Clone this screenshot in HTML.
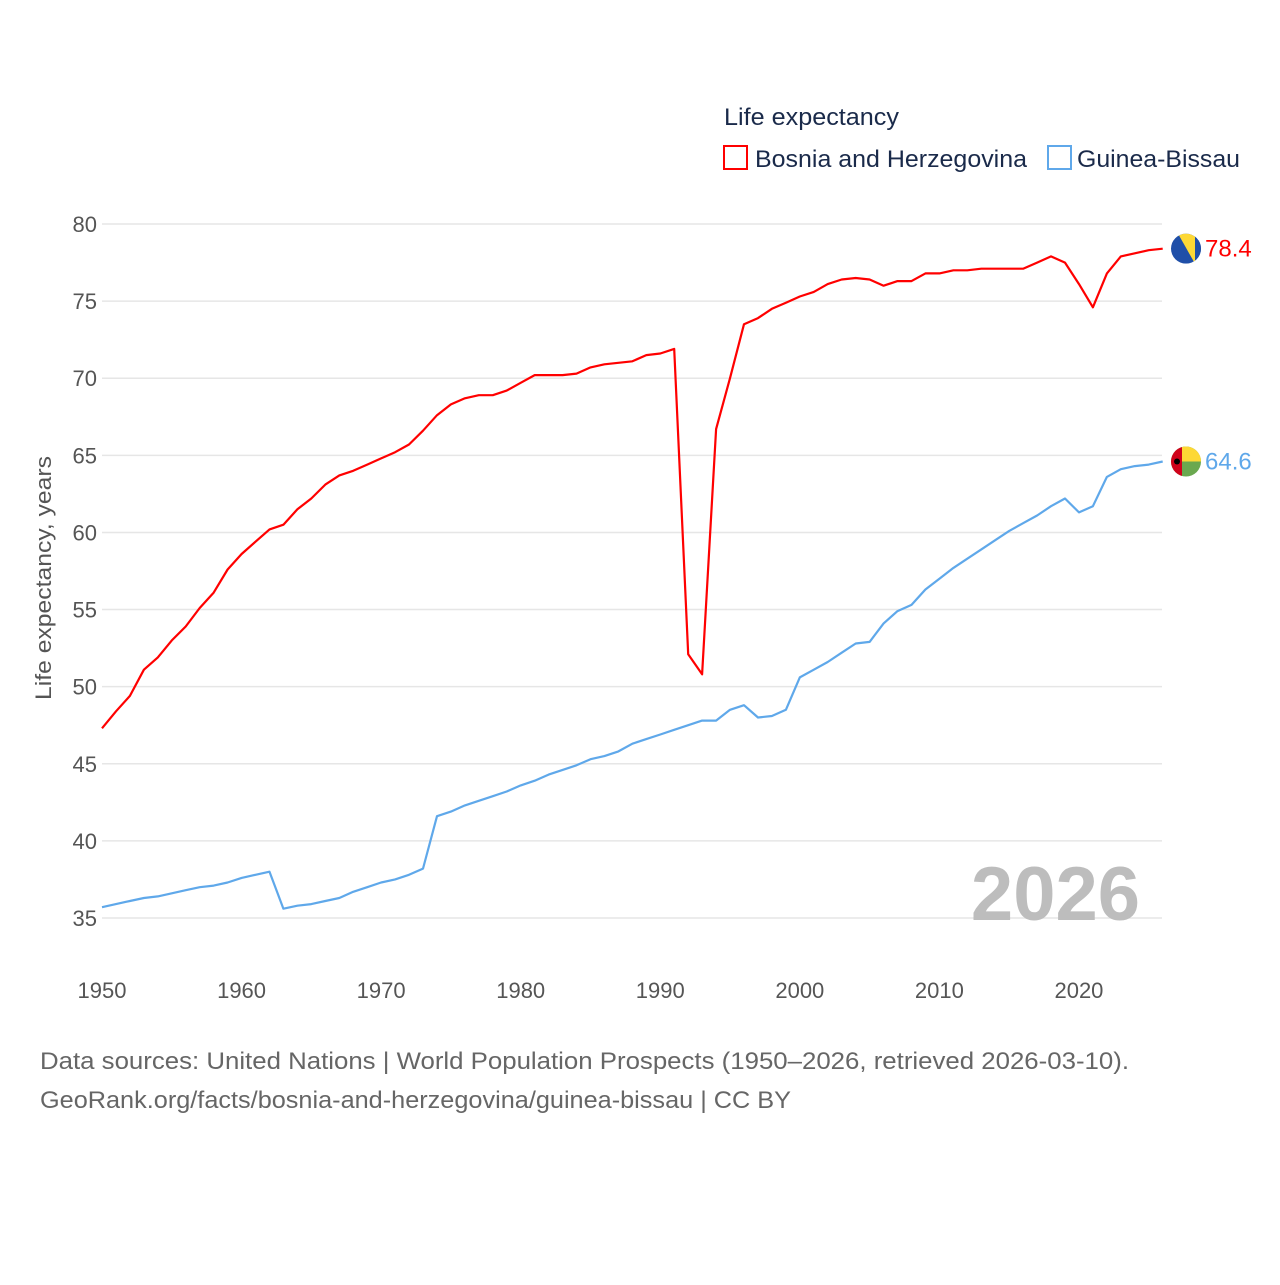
<!DOCTYPE html>
<html><head><meta charset="utf-8"><style>
body{margin:0;background:#fff;font-family:"Liberation Sans",sans-serif}
svg text{font-family:"Liberation Sans",sans-serif}
</style></head><body>
<svg id="chart" width="1280" height="1280" viewBox="0 0 1280 1280">
<g>
<text x="724" y="125" font-size="24" fill="#1a2a4a" textLength="175" lengthAdjust="spacingAndGlyphs">Life expectancy</text>
<rect x="724" y="146" width="23" height="23" fill="none" stroke="#ff0000" stroke-width="2"/>
<text x="755" y="167" font-size="24" fill="#1a2a4a" textLength="272" lengthAdjust="spacingAndGlyphs">Bosnia and Herzegovina</text>
<rect x="1048" y="146" width="23" height="23" fill="none" stroke="#5fa8ea" stroke-width="2"/>
<text x="1077" y="167" font-size="24" fill="#1a2a4a" textLength="163" lengthAdjust="spacingAndGlyphs">Guinea-Bissau</text>
</g>
<g id="grid"></g>
<g id="yticks"></g>
<g id="xticks"></g>
<text transform="translate(51,578) rotate(-90)" text-anchor="middle" font-size="22" fill="#555" textLength="244" lengthAdjust="spacingAndGlyphs">Life expectancy, years</text>
<text x="1140" y="920" text-anchor="end" font-size="76" font-weight="bold" fill="#bdbdbd">2026</text>
<g id="series"></g>
<text x="40" y="1069" font-size="24" fill="#666" textLength="1089" lengthAdjust="spacingAndGlyphs">Data sources: United Nations | World Population Prospects (1950–2026, retrieved 2026-03-10).</text>
<text x="40" y="1108" font-size="24" fill="#666" textLength="751" lengthAdjust="spacingAndGlyphs">GeoRank.org/facts/bosnia-and-herzegovina/guinea-bissau | CC BY</text>
</svg>
<script>
const years = [];
for (let y = 1950; y <= 2026; y++) years.push(y);
const bosnia = [47.3,48.4,49.4,51.1,51.9,53.0,53.9,55.1,56.1,57.6,58.6,59.4,60.2,60.5,61.5,62.2,63.1,63.7,64.0,64.4,64.8,65.2,65.7,66.6,67.6,68.3,68.7,68.9,68.9,69.2,69.7,70.2,70.2,70.2,70.3,70.7,70.9,71.0,71.1,71.5,71.6,71.9,52.1,50.8,66.7,70.0,73.5,73.9,74.5,74.9,75.3,75.6,76.1,76.4,76.5,76.4,76.0,76.3,76.3,76.8,76.8,77.0,77.0,77.1,77.1,77.1,77.1,77.5,77.9,77.5,76.1,74.6,76.8,77.9,78.1,78.3,78.4];
const guinea = [35.7,35.9,36.1,36.3,36.4,36.6,36.8,37.0,37.1,37.3,37.6,37.8,38.0,35.6,35.8,35.9,36.1,36.3,36.7,37.0,37.3,37.5,37.8,38.2,41.6,41.9,42.3,42.6,42.9,43.2,43.6,43.9,44.3,44.6,44.9,45.3,45.5,45.8,46.3,46.6,46.9,47.2,47.5,47.8,47.8,48.5,48.8,48.0,48.1,48.5,50.6,51.1,51.6,52.2,52.8,52.9,54.1,54.9,55.3,56.3,57.0,57.7,58.3,58.9,59.5,60.1,60.6,61.1,61.7,62.2,61.3,61.7,63.6,64.1,64.3,64.4,64.6];
const yTicks = [35,40,45,50,55,60,65,70,75,80];
const xTicks = [1950,1960,1970,1980,1990,2000,2010,2020];
const X0=102, X1=1162.7, Y0=918, Y1=224;
const xs = yr => X0 + (yr-1950)*(X1-X0)/76;
const ys = v => Y0 - (v-35)*(Y0-Y1)/45;
const NS='http://www.w3.org/2000/svg';
function mk(tag, attrs, parent){const e=document.createElementNS(NS,tag);for(const k in attrs)e.setAttribute(k,attrs[k]);parent.appendChild(e);return e;}
const grid=document.getElementById('grid'), yt=document.getElementById('yticks'), xt=document.getElementById('xticks'), ser=document.getElementById('series');
yTicks.forEach(t=>{
  const l=mk('line',{x1:X0,x2:1162,y1:ys(t),y2:ys(t),stroke:'#e6e6e6','stroke-width':1.5},grid);
  
  
  const tx=mk('text',{x:97,y:ys(t)+8,'text-anchor':'end','font-size':22,fill:'#555'},yt);
  tx.textContent=t;
  
  
});
xTicks.forEach(t=>{
  const tx=mk('text',{x:xs(t),y:998,'text-anchor':'middle','font-size':22,fill:'#555'},xt);
  tx.textContent=t;
  
  
});
function line(vals,color,name){
  const d=vals.map((v,i)=>(i?'L':'M')+xs(years[i]).toFixed(1)+','+ys(v).toFixed(1)).join('');
  const p=mk('path',{d:d,fill:'none',stroke:color,'stroke-width':2.2,'stroke-linejoin':'round'},ser);
  
  
}
line(guinea,'#5fa8ea','line-guinea-bissau');
line(bosnia,'#ff0000','line-bosnia');
const bx=1186, by=ys(bosnia[bosnia.length-1]);
const gy=ys(guinea[guinea.length-1]);
const defs=mk('defs',{},ser);
const c1=mk('clipPath',{id:'cb'},defs); mk('circle',{cx:bx,cy:by,r:15},c1);
const c2=mk('clipPath',{id:'cg'},defs); mk('circle',{cx:bx,cy:gy,r:15},c2);
const fb=mk('g',{'clip-path':'url(#cb)'},ser);


mk('rect',{x:bx-15,y:by-15,width:30,height:30,fill:'#1f4fa8'},fb);
mk('polygon',{points:(bx-8)+','+(by-15)+' '+(bx+9)+','+(by-15)+' '+(bx+9)+','+(by+15),fill:'#fdd835'},fb);
mk('rect',{x:bx+9,y:by-15,width:6,height:30,fill:'#1f4fa8'},fb);
const fg=mk('g',{'clip-path':'url(#cg)'},ser);


mk('rect',{x:bx-15,y:gy-15,width:30,height:30,fill:'#6aa84f'},fg);
mk('rect',{x:bx-4,y:gy-15,width:19,height:15,fill:'#fdd835'},fg);
mk('rect',{x:bx-15,y:gy-15,width:11,height:30,fill:'#d0021b'},fg);
mk('circle',{cx:bx-9,cy:gy,r:3,fill:'#000'},fg);
const lb=mk('text',{x:1205,y:by+8,'font-size':24,fill:'#ff0000'},ser);
lb.textContent=bosnia[bosnia.length-1].toFixed(1);


const lg=mk('text',{x:1205,y:gy+8,'font-size':24,fill:'#5fa8ea'},ser);
lg.textContent=guinea[guinea.length-1].toFixed(1);


</script>
</body></html>
